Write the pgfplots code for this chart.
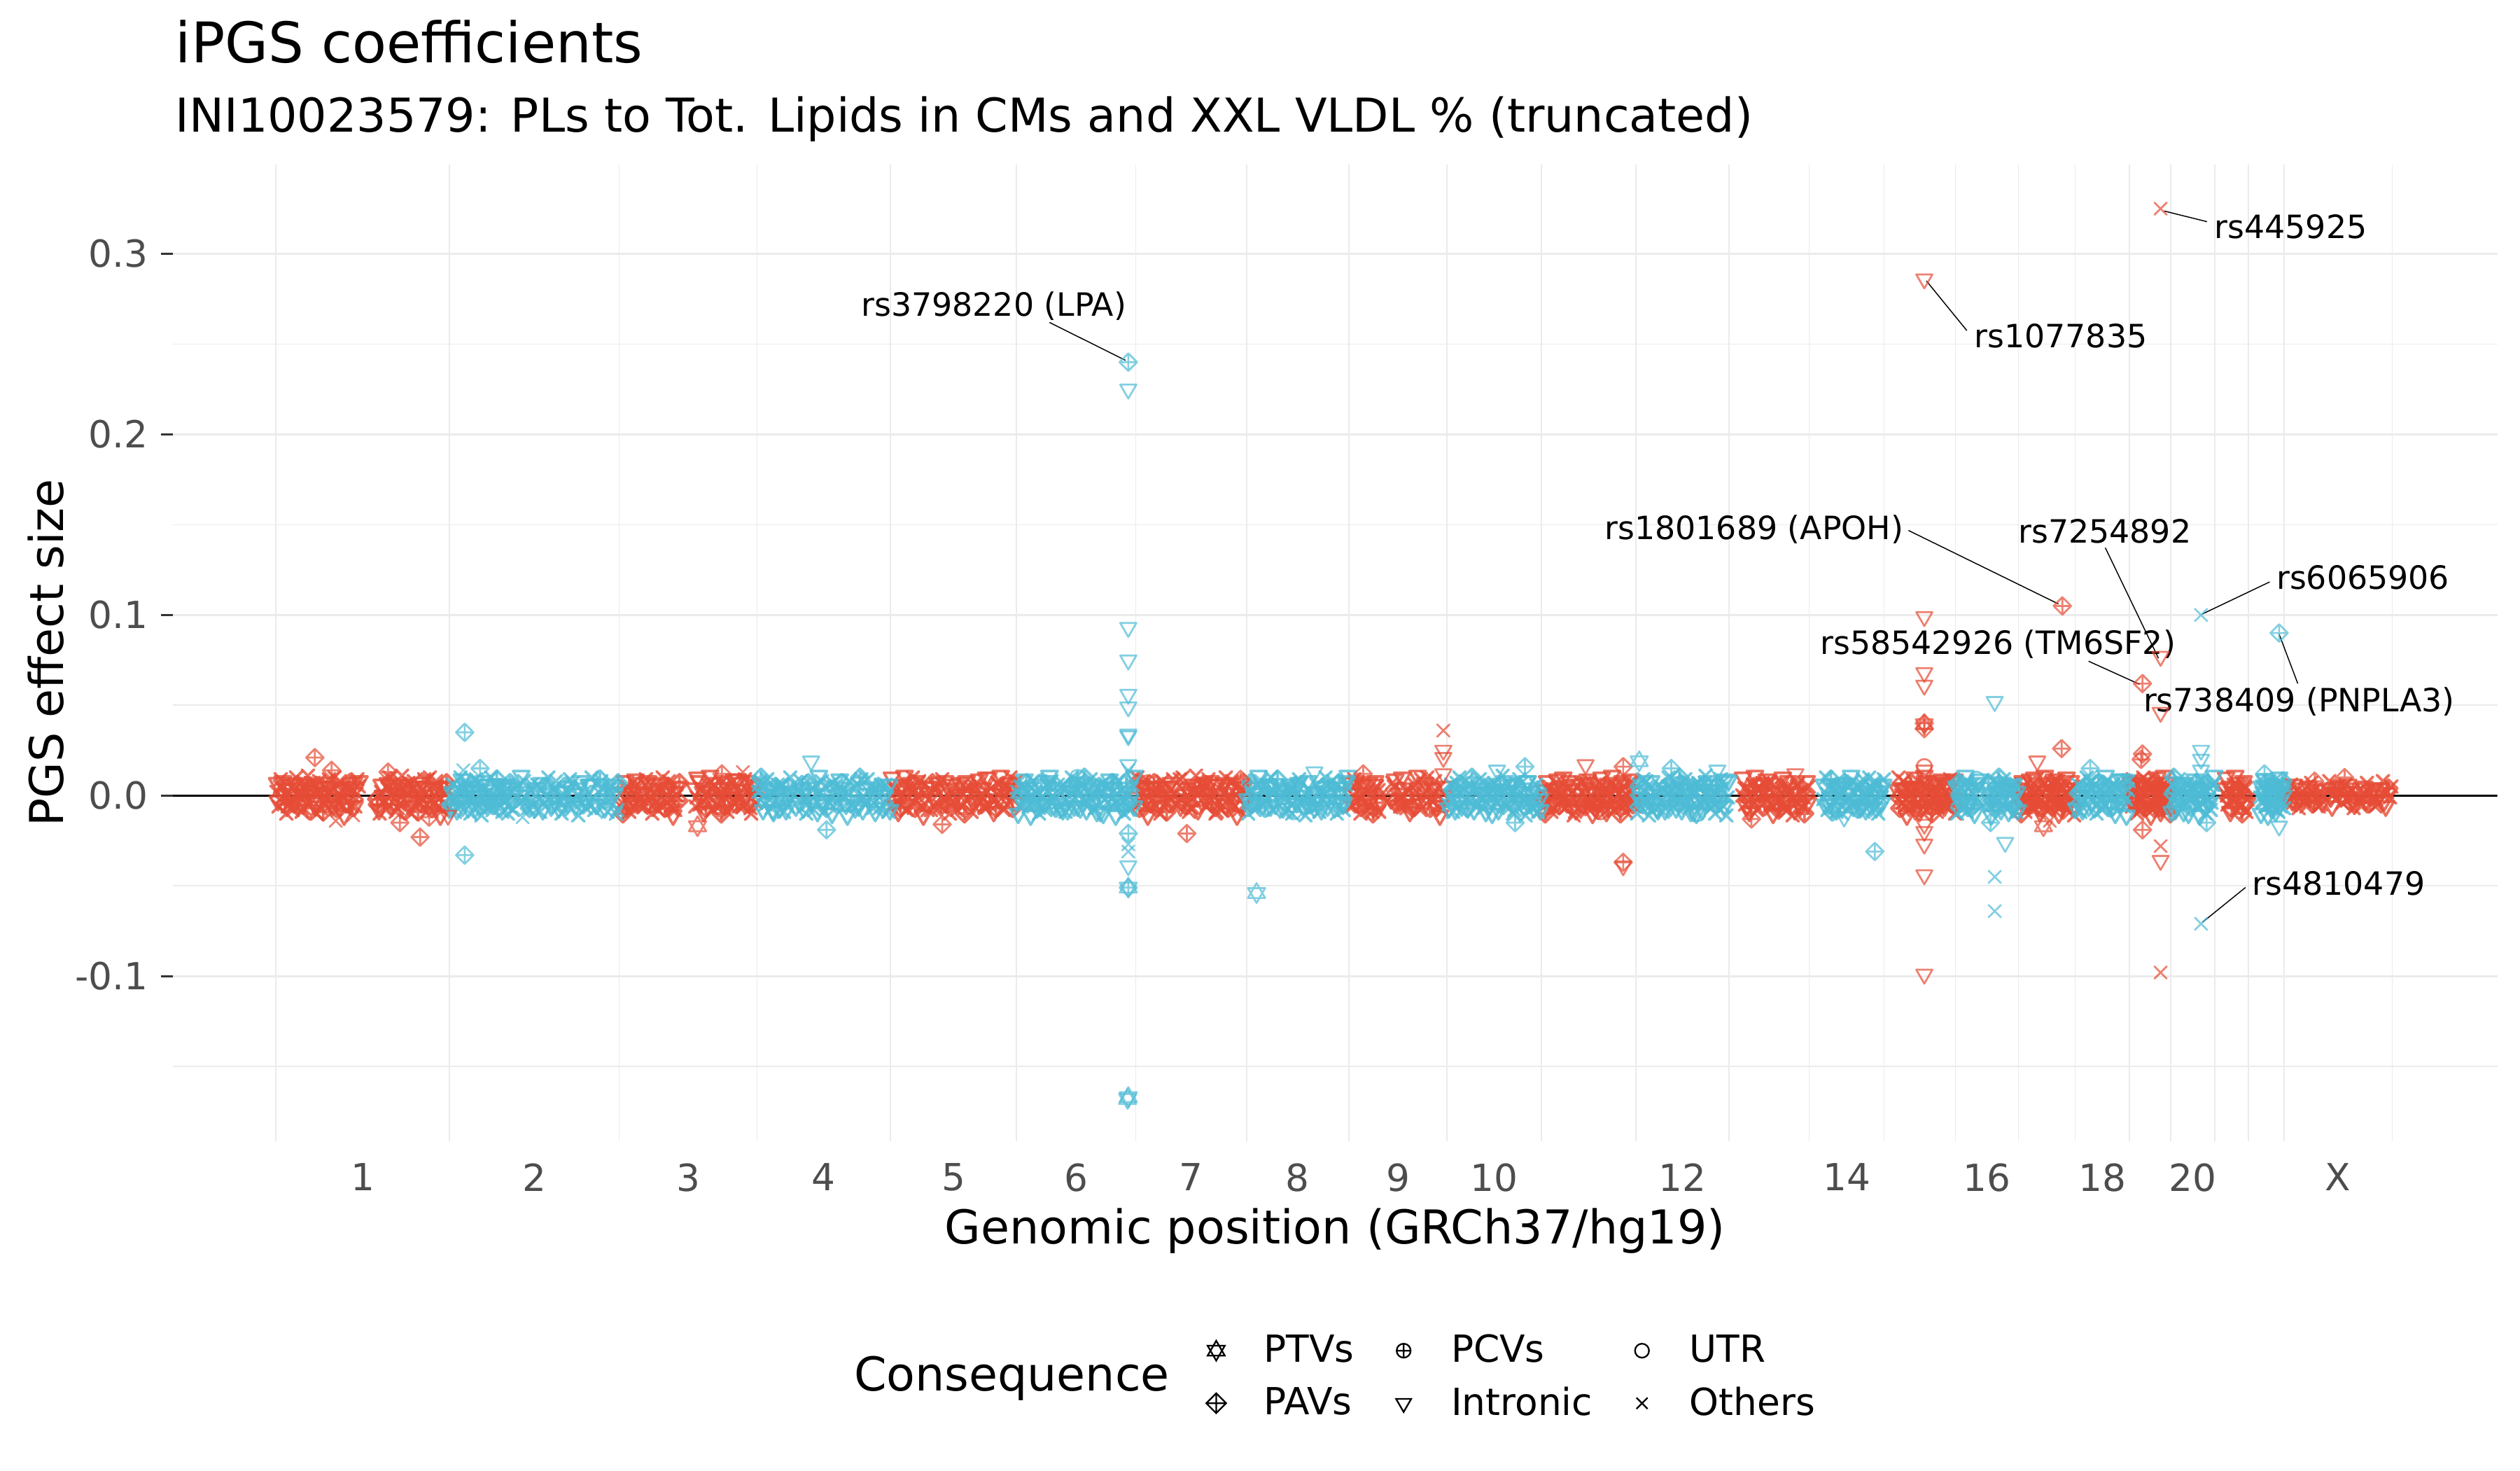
\documentclass[border=0pt]{standalone}
\usepackage{fontspec}
\setmainfont{DejaVu Sans}
\usepackage{pgfplots}
\pgfplotsset{compat=1.18}
\usepackage{pgfplotstable}
\definecolor{nred}{HTML}{E64B35}
\definecolor{nblue}{HTML}{4DBBD5}
\definecolor{gridc}{HTML}{EBEBEB}
\definecolor{tickc}{HTML}{4D4D4D}
\definecolor{tickm}{HTML}{333333}

\pgfdeclareplotmark{xx}{%
  \pgfpathmoveto{\pgfqpoint{-\pgfplotmarksize}{-\pgfplotmarksize}}%
  \pgfpathlineto{\pgfqpoint{\pgfplotmarksize}{\pgfplotmarksize}}%
  \pgfpathmoveto{\pgfqpoint{-\pgfplotmarksize}{\pgfplotmarksize}}%
  \pgfpathlineto{\pgfqpoint{\pgfplotmarksize}{-\pgfplotmarksize}}%
  \pgfusepathqstroke}
\pgfdeclareplotmark{tdown}{%
  \pgfpathmoveto{\pgfqpointpolar{-90}{\pgfplotmarksize}}%
  \pgfpathlineto{\pgfqpointpolar{30}{\pgfplotmarksize}}%
  \pgfpathlineto{\pgfqpointpolar{150}{\pgfplotmarksize}}%
  \pgfpathclose\pgfusepathqstroke}
\pgfdeclareplotmark{dplus}{%
  \pgfpathmoveto{\pgfqpoint{0pt}{\pgfplotmarksize}}%
  \pgfpathlineto{\pgfqpoint{\pgfplotmarksize}{0pt}}%
  \pgfpathlineto{\pgfqpoint{0pt}{-\pgfplotmarksize}}%
  \pgfpathlineto{\pgfqpoint{-\pgfplotmarksize}{0pt}}%
  \pgfpathclose
  \pgfpathmoveto{\pgfqpoint{0pt}{\pgfplotmarksize}}%
  \pgfpathlineto{\pgfqpoint{0pt}{-\pgfplotmarksize}}%
  \pgfpathmoveto{\pgfqpoint{-\pgfplotmarksize}{0pt}}%
  \pgfpathlineto{\pgfqpoint{\pgfplotmarksize}{0pt}}%
  \pgfusepathqstroke}
\pgfdeclareplotmark{hexa}{%
  \pgfpathmoveto{\pgfqpointpolar{90}{\pgfplotmarksize}}%
  \pgfpathlineto{\pgfqpointpolar{210}{\pgfplotmarksize}}%
  \pgfpathlineto{\pgfqpointpolar{330}{\pgfplotmarksize}}%
  \pgfpathclose
  \pgfpathmoveto{\pgfqpointpolar{270}{\pgfplotmarksize}}%
  \pgfpathlineto{\pgfqpointpolar{30}{\pgfplotmarksize}}%
  \pgfpathlineto{\pgfqpointpolar{150}{\pgfplotmarksize}}%
  \pgfpathclose
  \pgfusepathqstroke}
\pgfdeclareplotmark{cplus}{%
  \pgfpathcircle{\pgfpointorigin}{\pgfplotmarksize}%
  \pgfpathmoveto{\pgfqpoint{0pt}{\pgfplotmarksize}}%
  \pgfpathlineto{\pgfqpoint{0pt}{-\pgfplotmarksize}}%
  \pgfpathmoveto{\pgfqpoint{-\pgfplotmarksize}{0pt}}%
  \pgfpathlineto{\pgfqpoint{\pgfplotmarksize}{0pt}}%
  \pgfusepathqstroke}
\pgfdeclareplotmark{circ}{%
  \pgfpathcircle{\pgfpointorigin}{\pgfplotmarksize}\pgfusepathqstroke}

\tikzset{
  mk/.style={draw opacity=0.7, line width=0.65pt, line join=round, line cap=round},
  mkband/.style={draw opacity=0.8, line width=0.9pt, line join=round, line cap=round}}
\pgfplotsset{
  pts/.style n args={2}{forget plot, only marks, scatter, point meta=explicit symbolic,
    scatter/classes={
      x={mark=xx,mark size=2.1pt,draw=#1,#2},
      t={mark=tdown,mark size=3.2pt,draw=#1,#2},
      d={mark=dplus,mark size=3pt,draw=#1,#2},
      p={mark=hexa,mark size=3.4pt,draw=#1,#2},
      c={mark=cplus,mark size=2.6pt,draw=#1,#2},
      o={mark=circ,mark size=2.6pt,draw=#1,#2}}},
}

% x: cumulative genomic position (Mb), y: PGS effect size x 1000, c: consequence class
\pgfplotstableread[row sep=\\]{
x y c\\
1 2 x\\ 3 -3 t\\ 6 5 x\\ 9 -1 x\\ 12 0 d\\ 14 4 t\\ 17 -6 x\\ 20 1 t\\ 23 -2 x\\ 26 3 x\\
28 -4 t\\ 31 6 d\\ 34 -1 x\\ 36 2 x\\ 39 -5 t\\ 42 0 x\\ 45 3 d\\ 47 -2 t\\ 50 7 x\\ 53 -3 t\\
56 1 x\\ 58 -4 t\\ 61 2 x\\ 64 -7 x\\ 67 4 d\\ 69 0 t\\ 72 -1 x\\ 75 5 t\\ 78 -3 x\\ 80 2 x\\
83 -2 t\\ 86 1 d\\ 89 6 x\\ 91 -5 x\\ 94 3 t\\ 97 -1 x\\ 100 0 d\\ 102 -4 t\\ 105 4 x\\ 108 -2 t\\
111 3 x\\ 113 -6 t\\ 116 1 x\\ 119 5 x\\ 145 -2 d\\ 148 -8 t\\ 151 2 x\\ 154 0 t\\ 157 -3 x\\ 160 4 x\\
162 -1 t\\ 165 8 d\\ 168 -4 x\\ 171 2 x\\ 174 1 t\\ 177 -5 x\\ 180 3 d\\ 183 -2 t\\ 186 6 x\\ 189 -1 t\\
191 0 x\\ 194 -3 t\\ 197 4 x\\ 200 -6 x\\ 203 2 d\\ 206 5 t\\ 209 -1 x\\ 212 -4 t\\ 215 1 x\\ 218 9 x\\
220 -2 t\\ 223 3 d\\ 226 -5 x\\ 229 0 x\\ 232 2 t\\ 235 -7 x\\ 238 4 d\\ 241 -1 t\\ 244 1 x\\ 247 -3 t\\
494 1 x\\ 497 -4 x\\ 500 2 t\\ 503 -7 d\\ 506 4 x\\ 509 0 x\\ 512 -1 t\\ 515 5 x\\ 518 -3 d\\ 521 2 t\\
524 -2 x\\ 527 1 t\\ 530 6 x\\ 533 -5 t\\ 536 3 x\\ 539 -1 x\\ 542 0 d\\ 545 -4 t\\ 548 4 x\\ 551 -2 t\\
554 3 x\\ 557 -6 x\\ 560 1 t\\ 563 5 d\\ 566 -2 x\\ 569 -8 x\\ 572 2 t\\ 575 0 x\\ 578 -3 d\\ 601 4 t\\
604 -1 x\\ 607 8 t\\ 610 -4 x\\ 613 2 t\\ 616 1 x\\ 619 -5 x\\ 622 3 d\\ 626 -2 t\\ 629 6 x\\ 632 -1 t\\
635 0 x\\ 638 -3 x\\ 641 4 t\\ 644 -6 d\\ 647 2 x\\ 650 5 x\\ 653 -1 t\\ 657 -4 x\\ 660 1 d\\ 663 9 t\\
666 -2 x\\ 669 3 t\\ 672 -5 x\\ 675 0 t\\ 678 2 x\\ 681 -7 x\\ 684 4 d\\ 688 -1 t\\
883 -6 x\\ 886 4 x\\ 889 -3 d\\ 892 0 t\\ 895 -1 x\\ 898 6 t\\ 901 -2 x\\ 904 3 x\\ 907 -5 t\\ 910 1 d\\
913 2 x\\ 916 -4 x\\ 919 8 t\\ 922 -1 x\\ 925 4 d\\ 928 -3 t\\ 933 0 x\\ 937 2 t\\ 940 -8 x\\ 944 -2 t\\
947 5 x\\ 951 1 x\\ 954 -6 d\\ 958 3 t\\ 961 -2 x\\ 965 4 t\\ 968 -4 x\\ 972 0 x\\ 975 -1 t\\ 979 3 d\\
982 -5 x\\ 986 6 x\\ 989 1 t\\ 993 -2 x\\ 996 2 d\\ 1000 -3 t\\ 1003 5 x\\ 1007 -1 t\\ 1010 0 x\\ 1014 4 t\\
1017 -7 x\\ 1021 2 x\\ 1024 -4 d\\ 1028 1 t\\ 1031 -3 x\\ 1035 7 x\\ 1038 -2 t\\ 1042 3 d\\ 1045 0 x\\ 1049 -5 x\\
1052 2 t\\ 1056 -1 x\\ 1059 6 d\\ 1062 -4 t\\
1235 -1 t\\ 1238 8 d\\ 1241 -4 x\\ 1244 2 x\\ 1247 1 t\\ 1250 -5 x\\ 1253 3 d\\ 1256 -2 t\\ 1259 6 x\\ 1262 -1 t\\
1265 0 x\\ 1268 -3 t\\ 1271 4 x\\ 1274 -6 x\\ 1277 2 d\\ 1280 5 t\\ 1283 -1 x\\ 1286 -4 t\\ 1289 1 x\\ 1297 9 x\\
1300 -2 t\\ 1303 3 d\\ 1306 -5 x\\ 1309 0 x\\ 1312 2 t\\ 1316 -7 x\\ 1319 4 d\\ 1322 -1 t\\ 1325 1 x\\ 1328 -3 t\\
1331 5 x\\ 1334 -2 t\\ 1337 0 x\\ 1340 3 x\\ 1343 -4 d\\ 1347 6 t\\ 1350 -9 x\\ 1353 1 t\\ 1356 -1 x\\ 1359 2 x\\
1362 -5 t\\ 1365 4 d\\ 1368 -2 x\\ 1371 7 x\\ 1374 -3 t\\ 1378 0 x\\ 1381 1 d\\ 1384 -6 t\\ 1387 3 x\\ 1390 -1 t\\
1540 -6 x\\ 1543 1 t\\ 1546 0 x\\ 1549 -3 t\\ 1552 7 x\\ 1555 -2 x\\ 1558 4 d\\ 1561 -5 t\\ 1564 2 x\\ 1567 -1 t\\
1570 1 x\\ 1573 -9 x\\ 1576 6 t\\ 1579 -4 d\\ 1582 3 x\\ 1585 0 x\\ 1600 -2 t\\ 1604 5 x\\ 1607 -3 d\\ 1611 1 t\\
1614 -1 x\\ 1618 4 t\\ 1622 -7 x\\ 1625 2 x\\ 1629 0 d\\ 1632 -5 t\\ 1636 3 x\\ 1640 -2 t\\ 1643 9 x\\ 1647 1 x\\
1650 -4 t\\ 1654 -1 d\\ 1658 5 x\\ 1661 2 x\\ 1665 -6 t\\ 1668 4 x\\ 1672 -3 d\\ 1676 0 t\\
1817 -2 d\\ 1820 3 t\\ 1823 -5 x\\ 1826 0 t\\ 1829 2 x\\ 1832 -7 x\\ 1835 4 t\\ 1838 -1 d\\ 1841 1 x\\ 1843 -3 x\\
1846 5 t\\ 1849 -2 x\\ 1852 0 d\\ 1855 3 t\\ 1858 -4 x\\ 1861 6 t\\ 1864 -9 x\\ 1866 1 t\\ 1871 -1 x\\ 1873 2 x\\
1876 -5 d\\ 1878 4 t\\ 1881 -2 x\\ 1883 7 t\\ 1886 -3 x\\ 1888 0 x\\ 1891 1 t\\ 1893 -6 d\\ 1896 3 x\\ 1898 -1 x\\
1901 2 t\\ 1903 -3 x\\ 1906 5 d\\ 1908 -1 t\\ 1911 0 x\\ 1913 4 t\\ 1916 -6 x\\ 1918 1 t\\ 1921 -2 x\\ 1923 3 x\\
1926 -4 d\\ 1928 6 t\\ 1931 -1 x\\ 1933 2 t\\ 1936 -5 x\\ 1938 0 x\\ 1941 3 t\\ 1943 -2 d\\ 1946 7 x\\ 1948 -3 x\\
2104 0 x\\ 2107 4 x\\ 2110 -6 t\\ 2113 1 x\\ 2115 -2 d\\ 2118 3 t\\ 2121 -4 x\\ 2124 6 t\\ 2127 -1 x\\ 2130 2 t\\
2132 -5 x\\ 2135 0 x\\ 2138 3 d\\ 2141 -2 t\\ 2144 7 x\\ 2147 -3 t\\ 2149 1 x\\ 2152 -4 x\\ 2155 2 t\\ 2158 -7 d\\
2161 4 x\\ 2164 0 x\\ 2166 -1 t\\ 2169 5 x\\ 2172 -3 d\\ 2175 2 t\\ 2178 -2 x\\ 2181 1 t\\ 2183 6 x\\ 2186 -5 t\\
2189 3 x\\ 2192 -1 x\\ 2195 0 d\\ 2198 -4 t\\
2327 3 t\\ 2329 -1 d\\ 2332 0 x\\ 2334 -4 x\\ 2336 4 t\\ 2339 -2 x\\ 2341 3 d\\ 2343 -6 t\\ 2345 1 x\\ 2348 5 t\\
2350 -2 x\\ 2352 -8 t\\ 2355 2 x\\ 2357 0 x\\ 2359 -3 d\\ 2362 4 t\\ 2364 -1 x\\ 2366 8 t\\ 2368 -4 x\\ 2371 2 x\\
2373 1 t\\ 2375 -5 d\\ 2378 3 x\\ 2380 -2 x\\ 2382 6 t\\ 2385 -1 x\\ 2387 0 d\\ 2389 -3 t\\ 2391 4 x\\ 2394 -6 t\\
2396 2 x\\ 2398 5 t\\ 2401 -1 x\\ 2403 -4 x\\ 2405 1 d\\ 2408 9 t\\
2501 -1 x\\ 2503 4 t\\ 2505 -2 x\\ 2507 7 t\\ 2509 -4 x\\ 2512 0 x\\ 2514 1 d\\ 2516 -5 t\\ 2518 3 x\\ 2520 -2 t\\
2522 2 x\\ 2526 -1 x\\ 2528 -6 t\\ 2530 5 d\\ 2533 -3 x\\ 2535 1 x\\ 2537 0 t\\ 2539 4 x\\ 2541 -4 d\\ 2543 2 t\\
2546 -3 x\\ 2548 6 t\\ 2550 -1 x\\ 2552 -5 t\\ 2554 2 x\\ 2557 8 x\\ 2559 -2 d\\ 2561 0 t\\ 2563 3 x\\ 2565 -4 t\\
2568 1 x\\ 2570 -8 x\\ 2572 4 t\\ 2574 -2 d\\ 2576 -1 x\\ 2579 5 x\\
2660 -2 x\\ 2662 3 t\\ 2664 -5 x\\ 2665 1 x\\ 2667 0 t\\ 2669 -4 d\\ 2671 6 x\\ 2673 -1 x\\ 2674 2 t\\ 2676 -3 x\\
2678 4 d\\ 2680 -6 t\\ 2682 1 x\\ 2684 -2 t\\ 2688 5 x\\ 2690 0 t\\ 2691 -3 x\\ 2693 2 x\\ 2695 -7 d\\ 2696 3 t\\
2698 -1 x\\ 2700 4 t\\ 2701 -2 x\\ 2703 7 x\\ 2705 -4 t\\ 2706 0 d\\ 2708 1 x\\ 2710 -5 x\\ 2711 3 t\\ 2713 -2 x\\
2715 2 d\\ 2717 -1 t\\
2797 4 t\\ 2799 0 x\\ 2801 -1 d\\ 2803 5 t\\ 2805 -3 x\\ 2808 2 t\\ 2810 -2 x\\ 2812 1 t\\ 2814 6 x\\ 2816 -5 x\\
2818 3 d\\ 2820 -1 t\\ 2822 0 x\\ 2824 -4 t\\ 2826 4 x\\ 2829 -2 x\\
2882 0 d\\ 2886 -2 t\\ 2889 2 x\\ 2893 -3 t\\ 2896 1 x\\ 2900 3 x\\ 2904 -1 t\\ 2907 -2 d\\ 2911 1 x\\ 2914 5 x\\
2918 -1 t\\ 2922 2 x\\ 2925 -3 d\\ 2929 0 t\\ 2932 1 x\\ 2936 -4 t\\ 2944 2 x\\ 2948 -1 t\\ 2952 1 x\\ 2955 -2 x\\
2959 3 d\\ 2963 -1 t\\ 2967 0 x\\ 2971 2 t\\ 2975 -2 x\\ 2979 3 x\\ 2982 -5 t\\ 2986 1 d\\ 2990 -1 x\\ 2994 1 x\\
2998 -3 t\\ 3002 2 x\\ 3006 -1 d\\ 3010 4 t\\ 3013 -2 x\\ 3017 0 t\\ 3021 1 x\\ 3025 -3 t\\ 3029 2 x\\ 3033 -1 x\\
2 7 t\\ 4 -6 x\\ 7 9 x\\ 10 8 t\\ 13 -5 d\\ 15 -10 x\\ 18 6 t\\ 21 -4 x\\ 24 -8 x\\ 27 7 t\\
29 10 x\\ 32 -5 d\\ 35 4 t\\ 37 -9 x\\ 40 -7 x\\ 43 6 t\\ 46 11 x\\ 48 -8 t\\ 51 5 d\\ 54 7 x\\
57 -6 t\\ 59 -10 x\\ 62 8 x\\ 65 5 t\\ 68 -9 d\\ 70 -4 x\\ 73 7 t\\ 76 9 x\\ 79 -5 x\\ 81 -6 t\\
84 10 x\\ 87 -7 d\\ 90 4 t\\ 92 8 x\\ 95 -6 x\\ 98 -11 t\\ 101 -8 x\\ 103 5 t\\ 106 7 d\\ 109 -6 x\\
112 7 t\\ 114 -6 x\\ 117 9 x\\ 120 8 t\\ 146 -5 d\\ 149 -10 x\\ 152 6 t\\ 155 -4 x\\ 158 -8 x\\ 161 7 t\\
163 10 x\\ 166 -5 d\\ 169 4 t\\ 172 -9 x\\ 175 -7 x\\ 178 6 t\\ 181 11 x\\ 184 -8 t\\ 187 5 d\\ 190 7 x\\
192 -6 t\\ 195 -10 x\\ 198 8 x\\ 201 5 t\\ 204 -9 d\\ 207 -4 x\\ 210 7 t\\ 213 9 x\\ 216 -5 x\\ 219 -6 t\\
221 10 x\\ 224 -7 d\\ 227 4 t\\ 230 8 x\\ 233 -6 x\\ 236 -11 t\\ 239 -8 x\\ 242 5 t\\ 245 7 d\\ 248 -6 x\\
495 -6 x\\ 498 -10 d\\ 501 8 t\\ 504 5 x\\ 507 -9 x\\ 510 -4 t\\ 513 7 x\\ 516 9 t\\ 519 -5 d\\ 522 -6 x\\
525 7 t\\ 528 -6 x\\ 531 9 x\\ 534 8 t\\ 537 -5 d\\ 540 -10 x\\ 543 6 t\\ 546 -4 x\\ 549 -8 x\\ 552 7 t\\
555 10 x\\ 558 -7 d\\ 561 4 t\\ 564 8 x\\ 567 -6 x\\ 570 -11 t\\ 573 -8 x\\ 576 5 t\\ 579 7 d\\ 602 -6 x\\
605 10 t\\ 608 -5 x\\ 611 4 x\\ 614 -9 t\\ 617 -7 d\\ 620 6 x\\ 623 11 t\\ 627 -8 x\\ 630 5 x\\ 633 7 t\\
636 -6 x\\ 639 -10 d\\ 642 8 t\\ 645 5 x\\ 648 -9 x\\ 651 -4 t\\ 654 7 x\\ 658 9 t\\ 661 -5 d\\ 664 -6 x\\
667 7 t\\ 670 -6 x\\ 673 9 x\\ 676 8 t\\ 679 -5 d\\ 682 -10 x\\ 685 6 t\\ 689 -4 x\\
884 10 t\\ 887 -5 x\\ 890 4 x\\ 893 -9 t\\ 896 -7 d\\ 899 6 x\\ 902 11 t\\ 905 -8 x\\ 908 5 x\\ 911 7 t\\
914 10 x\\ 917 -7 d\\ 920 4 t\\ 923 8 x\\ 926 -6 x\\ 929 -11 t\\ 935 -8 x\\ 939 5 t\\ 942 7 d\\ 946 -6 x\\
949 7 t\\ 953 -6 x\\ 956 9 x\\ 960 8 t\\ 963 -5 d\\ 967 -10 x\\ 970 6 t\\ 974 -4 x\\ 977 -8 x\\ 981 7 t\\
984 -6 x\\ 988 -10 d\\ 991 8 t\\ 995 5 x\\ 998 -9 x\\ 1002 -4 t\\ 1005 7 x\\ 1009 9 t\\ 1012 -5 d\\ 1016 -6 x\\
1019 10 t\\ 1023 -5 x\\ 1026 4 x\\ 1030 -9 t\\ 1033 -7 d\\ 1037 6 x\\ 1040 11 t\\ 1044 -8 x\\ 1047 5 x\\ 1051 7 t\\
1054 10 x\\ 1057 -7 d\\ 1060 4 t\\ 1062 8 x\\
1236 10 x\\ 1239 -7 d\\ 1242 4 t\\ 1245 8 x\\ 1248 -6 x\\ 1251 -11 t\\ 1254 -8 x\\ 1257 5 t\\ 1260 7 d\\ 1263 -6 x\\
1266 -6 t\\ 1269 -10 x\\ 1272 8 x\\ 1275 5 t\\ 1278 -9 d\\ 1281 -4 x\\ 1284 7 t\\ 1287 9 x\\ 1291 -5 x\\ 1298 -6 t\\
1301 10 x\\ 1304 -5 d\\ 1307 4 t\\ 1310 -9 x\\ 1313 -7 x\\ 1317 6 t\\ 1320 11 x\\ 1323 -8 t\\ 1326 5 d\\ 1329 7 x\\
1332 7 t\\ 1335 -6 x\\ 1338 9 x\\ 1341 8 t\\ 1344 -5 d\\ 1348 -10 x\\ 1351 6 t\\ 1354 -4 x\\ 1357 -8 x\\ 1360 7 t\\
1363 10 x\\ 1366 -7 d\\ 1369 4 t\\ 1372 8 x\\ 1375 -6 x\\ 1379 -11 t\\ 1382 -8 x\\ 1385 5 t\\ 1388 7 d\\ 1391 -6 x\\
1541 7 t\\ 1544 -6 x\\ 1547 9 x\\ 1550 8 t\\ 1553 -5 d\\ 1556 -10 x\\ 1559 6 t\\ 1562 -4 x\\ 1565 -8 x\\ 1568 7 t\\
1571 -6 x\\ 1574 -10 d\\ 1577 8 t\\ 1580 5 x\\ 1583 -9 x\\ 1586 -4 t\\ 1602 7 x\\ 1606 9 t\\ 1609 -5 d\\ 1613 -6 x\\
1616 10 t\\ 1620 -5 x\\ 1624 4 x\\ 1627 -9 t\\ 1631 -7 d\\ 1634 6 x\\ 1638 11 t\\ 1642 -8 x\\ 1645 5 x\\ 1649 7 t\\
1652 10 x\\ 1656 -7 d\\ 1660 4 t\\ 1663 8 x\\ 1667 -6 x\\ 1670 -11 t\\ 1674 -8 x\\ 1678 5 t\\
1818 -6 x\\ 1821 -10 d\\ 1824 8 t\\ 1827 5 x\\ 1830 -9 x\\ 1833 -4 t\\ 1836 7 x\\ 1839 9 t\\ 1842 -5 d\\ 1844 -6 x\\
1847 10 t\\ 1850 -7 x\\ 1853 4 x\\ 1856 8 t\\ 1859 -6 d\\ 1862 -11 x\\ 1865 -8 t\\ 1868 5 x\\ 1872 7 x\\ 1874 -6 t\\
1877 7 x\\ 1879 -6 d\\ 1882 9 t\\ 1884 8 x\\ 1887 -5 x\\ 1889 -10 t\\ 1892 6 x\\ 1894 -4 t\\ 1897 -8 d\\ 1899 7 x\\
1902 10 t\\ 1904 -5 x\\ 1907 4 x\\ 1909 -9 t\\ 1912 -7 d\\ 1914 6 x\\ 1917 11 t\\ 1919 -8 x\\ 1922 5 x\\ 1924 7 t\\
1927 -6 x\\ 1929 -10 d\\ 1932 8 t\\ 1934 5 x\\ 1937 -9 x\\ 1939 -4 t\\ 1942 7 x\\ 1944 9 t\\ 1947 -5 d\\ 1949 -6 x\\
2105 10 t\\ 2108 -5 x\\ 2111 4 x\\ 2114 -9 t\\ 2116 -7 d\\ 2119 6 x\\ 2122 11 t\\ 2125 -8 x\\ 2128 5 x\\ 2131 7 t\\
2133 7 x\\ 2136 -6 d\\ 2139 9 t\\ 2142 8 x\\ 2145 -5 x\\ 2148 -10 t\\ 2150 6 x\\ 2153 -4 t\\ 2156 -8 d\\ 2159 7 x\\
2162 10 t\\ 2165 -7 x\\ 2167 4 x\\ 2170 8 t\\ 2173 -6 d\\ 2176 -11 x\\ 2179 -8 t\\ 2182 5 x\\ 2184 7 x\\ 2187 -6 t\\
2190 -6 x\\ 2193 -10 d\\ 2196 8 t\\ 2199 5 x\\
2328 10 x\\ 2330 -7 d\\ 2333 4 t\\ 2335 8 x\\ 2337 -6 x\\ 2340 -11 t\\ 2342 -8 x\\ 2344 5 t\\ 2346 7 d\\ 2349 -6 x\\
2351 10 t\\ 2353 -5 x\\ 2356 4 x\\ 2358 -9 t\\ 2360 -7 d\\ 2363 6 x\\ 2365 11 t\\ 2367 -8 x\\ 2369 5 x\\ 2372 7 t\\
2374 -6 x\\ 2376 -10 d\\ 2379 8 t\\ 2381 5 x\\ 2383 -9 x\\ 2386 -4 t\\ 2388 7 x\\ 2390 9 t\\ 2392 -5 d\\ 2395 -6 x\\
2397 7 t\\ 2399 -6 x\\ 2402 9 x\\ 2404 8 t\\ 2406 -5 d\\ 2409 -10 x\\
2502 -6 x\\ 2504 -10 d\\ 2506 8 t\\ 2508 5 x\\ 2510 -9 x\\ 2513 -4 t\\ 2515 7 x\\ 2517 9 t\\ 2519 -5 d\\ 2521 -6 x\\
2523 10 t\\ 2527 -5 x\\ 2529 4 x\\ 2531 -9 t\\ 2534 -7 d\\ 2536 6 x\\ 2538 11 t\\ 2540 -8 x\\ 2542 5 x\\ 2544 7 t\\
2547 7 x\\ 2549 -6 d\\ 2551 9 t\\ 2553 8 x\\ 2555 -5 x\\ 2558 -10 t\\ 2560 6 x\\ 2562 -4 t\\ 2564 -8 d\\ 2566 7 x\\
2569 10 t\\ 2571 -7 x\\ 2573 4 x\\ 2575 8 t\\ 2577 -6 d\\ 2580 -11 x\\
2661 7 t\\ 2663 -6 x\\ 2664 9 x\\ 2666 8 t\\ 2668 -5 d\\ 2670 -10 x\\ 2672 6 t\\ 2673 -4 x\\ 2675 -8 x\\ 2677 7 t\\
2679 10 x\\ 2681 -7 d\\ 2683 4 t\\ 2685 8 x\\ 2689 -6 x\\ 2690 -11 t\\ 2692 -8 x\\ 2694 5 t\\ 2696 7 d\\ 2697 -6 x\\
2699 10 t\\ 2700 -5 x\\ 2702 4 x\\ 2704 -9 t\\ 2706 -7 d\\ 2707 6 x\\ 2709 11 t\\ 2711 -8 x\\ 2712 5 x\\ 2714 7 t\\
2716 -6 x\\ 2718 -10 d\\
2798 10 t\\ 2800 -5 x\\ 2802 4 x\\ 2804 -9 t\\ 2806 -7 d\\ 2809 6 x\\ 2811 11 t\\ 2813 -8 x\\ 2815 5 x\\ 2817 7 t\\
2819 -6 x\\ 2821 -10 d\\ 2823 8 t\\ 2825 5 x\\ 2827 -9 x\\ 2828 -4 t\\
2884 5 t\\ 2888 -4 x\\ 2891 6 x\\ 2895 6 t\\ 2898 -4 d\\ 2902 -7 x\\ 2906 4 t\\ 2909 -3 x\\ 2913 -6 x\\ 2916 5 t\\
2920 7 x\\ 2924 -4 d\\ 2927 3 t\\ 2931 -6 x\\ 2934 -5 x\\ 2938 4 t\\ 2946 8 x\\ 2950 -6 t\\ 2954 4 d\\ 2957 5 x\\
2961 5 t\\ 2965 -4 x\\ 2969 6 x\\ 2973 6 t\\ 2977 -4 d\\ 2981 -7 x\\ 2984 4 t\\ 2988 -3 x\\ 2992 -6 x\\ 2996 5 t\\
3000 7 x\\ 3004 -4 d\\ 3008 3 t\\ 3012 -6 x\\ 3015 -5 x\\ 3019 4 t\\ 3023 8 x\\ 3027 -6 t\\ 3031 4 d\\ 3035 5 x\\
}\redtab

\pgfplotstableread[row sep=\\]{
x y c\\
56 21 d\\ 80 14 d\\ 161 13 d\\ 207 -23 d\\ 86 -14 x\\ 178 -15 d\\ 247 -11 t\\ 220 -12 d\\ 111 -11 x\\
605 -17 p\\ 640 12 d\\ 670 13 x\\ 956 -16 d\\ 1023 10 t\\ 1250 7 c\\ 1307 -21 d\\ 1384 9 d\\
1675 36 x\\ 1675 25 t\\ 1675 21 t\\ 1675 12 t\\ 1560 12 d\\ 1900 -9 o\\ 1933 -37 d\\ 1933 -39 t\\ 1933 16 d\\ 1879 17 t\\
2117 -13 d\\ 2180 12 t\\
2365 286 t\\ 2365 99 t\\ 2365 68 t\\ 2365 61 t\\ 2365 40 d\\ 2365 39.5 p\\ 2365 37 d\\ 2365 16 o\\ 2365 14 t\\
2365 -16 t\\ 2365 -20 t\\ 2365 -27 t\\ 2365 -44 t\\ 2365 -99 t\\
2562 26 d\\ 2563 105 d\\ 2536 -17 p\\ 2527 19 t\\ 2545 -14 x\\ 2540 9 o\\
2704 325 x\\ 2704 77 t\\ 2678 62 d\\ 2704 46 t\\ 2678 23 d\\ 2676 20 d\\ 2678 -19 d\\ 2704 -28 x\\ 2704 -36 t\\ 2704 -98 x\\ 2690 8 c\\
2925 8 d\\ 2968 10 d\\
}\redout

\pgfplotstableread[row sep=\\]{
x y c\\
251 -5 d\\ 253 2 t\\ 256 0 x\\ 259 -3 t\\ 262 4 x\\ 264 -6 x\\ 267 9 t\\ 270 -1 d\\ 272 1 x\\ 275 -2 x\\
278 5 t\\ 281 -4 x\\ 283 2 d\\ 286 -7 t\\ 289 3 x\\ 291 0 t\\ 294 -1 x\\ 297 6 t\\ 300 -3 x\\ 302 1 x\\
305 -2 d\\ 308 3 t\\ 310 -5 x\\ 313 1 t\\ 316 0 x\\ 318 -4 x\\ 321 6 t\\ 324 -1 d\\ 327 2 x\\ 329 -3 x\\
332 4 t\\ 335 -6 x\\ 337 1 d\\ 339 -2 t\\ 346 5 x\\ 350 0 t\\ 354 -3 x\\ 358 2 t\\ 362 -7 x\\ 365 3 x\\
369 -1 d\\ 373 4 t\\ 377 -2 x\\ 381 7 t\\ 385 -4 x\\ 389 0 x\\ 393 1 t\\ 397 -5 d\\ 400 3 x\\ 404 -2 x\\
408 2 t\\ 412 -1 x\\ 416 -6 d\\ 420 5 t\\ 424 -3 x\\ 428 1 t\\ 432 0 x\\ 435 4 t\\ 439 -4 x\\ 443 2 x\\
447 -3 d\\ 451 6 t\\ 455 -1 x\\ 459 -5 t\\ 463 2 x\\ 467 8 x\\ 470 -2 t\\ 474 0 d\\ 478 3 x\\ 482 -4 x\\
486 1 t\\ 490 -8 x\\
692 2 x\\ 695 8 x\\ 698 -2 t\\ 701 0 x\\ 704 3 d\\ 707 -4 t\\ 710 1 x\\ 713 -8 t\\ 716 4 x\\ 719 -2 t\\
722 -1 x\\ 725 5 x\\ 728 -3 d\\ 731 2 t\\ 734 -6 x\\ 737 1 t\\ 744 0 x\\ 748 3 x\\ 751 -4 t\\ 755 6 d\\
759 -2 x\\ 762 -5 x\\ 766 1 t\\ 770 4 x\\ 773 -1 d\\ 777 -9 t\\ 781 2 x\\ 784 -3 t\\ 788 5 x\\ 792 0 t\\
796 -2 x\\ 799 7 x\\ 803 -4 t\\ 807 1 d\\ 810 -1 x\\ 814 3 x\\ 818 -5 t\\ 821 2 x\\ 825 0 d\\ 829 -3 t\\
832 4 x\\ 836 -6 t\\ 840 9 x\\ 844 -1 x\\ 847 1 t\\ 851 -2 d\\ 855 5 x\\ 858 -4 x\\ 862 2 t\\ 866 -7 x\\
869 3 d\\ 873 0 t\\ 877 -1 x\\ 880 6 t\\
1064 2 x\\ 1067 -1 t\\ 1070 -6 x\\ 1073 5 x\\ 1076 -3 t\\ 1079 1 d\\ 1082 0 x\\ 1085 4 x\\ 1088 -4 t\\ 1091 2 x\\
1094 -3 d\\ 1097 6 t\\ 1100 -1 x\\ 1103 -5 t\\ 1106 2 x\\ 1109 8 t\\ 1112 -2 x\\ 1115 0 x\\ 1118 3 d\\ 1121 -4 t\\
1126 1 x\\ 1129 -8 t\\ 1132 4 x\\ 1135 -2 x\\ 1138 -1 t\\ 1141 5 d\\ 1144 -3 x\\ 1147 2 x\\ 1150 -6 t\\ 1153 1 x\\
1156 0 d\\ 1159 3 t\\ 1162 -4 x\\ 1165 6 t\\ 1168 -2 x\\ 1171 -5 t\\ 1174 1 x\\ 1177 4 x\\ 1180 -1 d\\ 1183 -9 t\\
1186 2 x\\ 1189 -3 t\\ 1192 5 x\\ 1195 0 x\\ 1198 -2 t\\ 1201 7 d\\ 1204 -4 x\\ 1207 1 x\\ 1210 -1 t\\ 1213 3 x\\
1216 -5 d\\ 1219 2 t\\ 1222 0 x\\ 1225 -3 t\\ 1228 4 x\\ 1231 -6 t\\
1394 -2 t\\ 1397 3 x\\ 1400 -5 d\\ 1403 1 t\\ 1406 0 x\\ 1409 -4 t\\ 1412 6 x\\ 1415 -1 t\\ 1418 2 x\\ 1421 -3 x\\
1424 4 d\\ 1427 -6 t\\ 1430 1 x\\ 1433 -2 t\\ 1436 5 x\\ 1441 0 x\\ 1444 -3 t\\ 1447 2 d\\ 1451 -7 x\\ 1454 3 x\\
1457 -1 t\\ 1460 4 x\\ 1463 -2 d\\ 1467 7 t\\ 1470 -4 x\\ 1473 0 t\\ 1476 1 x\\ 1479 -5 t\\ 1483 3 x\\ 1486 -2 x\\
1489 2 t\\ 1492 -1 d\\ 1495 -6 x\\ 1499 5 t\\ 1502 -3 x\\ 1505 1 x\\ 1508 0 t\\ 1511 4 d\\ 1515 -4 x\\ 1518 2 x\\
1521 -3 t\\ 1524 6 x\\ 1527 -1 d\\ 1531 -5 t\\ 1534 2 x\\ 1537 8 t\\
1682 -5 x\\ 1685 0 x\\ 1688 3 d\\ 1691 -2 t\\ 1694 7 x\\ 1697 -3 t\\ 1700 1 x\\ 1703 -4 x\\ 1706 2 t\\ 1709 -7 d\\
1712 4 x\\ 1715 0 x\\ 1718 -1 t\\ 1723 5 x\\ 1726 -3 d\\ 1729 2 t\\ 1732 -2 x\\ 1735 1 t\\ 1738 6 x\\ 1741 -5 t\\
1744 3 x\\ 1747 -1 x\\ 1750 0 d\\ 1753 -4 t\\ 1756 4 x\\ 1759 -2 t\\ 1762 3 x\\ 1765 -6 x\\ 1768 1 t\\ 1771 5 d\\
1774 -2 x\\ 1777 -8 x\\ 1780 2 t\\ 1783 0 x\\ 1786 -3 d\\ 1789 4 t\\ 1792 -1 x\\ 1795 8 t\\ 1798 -4 x\\ 1801 2 t\\
1804 1 x\\ 1807 -5 x\\ 1810 3 d\\ 1813 -2 t\\
1952 -3 x\\ 1955 6 x\\ 1958 -1 t\\ 1961 -5 d\\ 1963 2 x\\ 1966 8 x\\ 1969 -2 t\\ 1972 0 x\\ 1975 3 d\\ 1977 -4 t\\
1980 1 x\\ 1983 -8 t\\ 1989 4 x\\ 1992 -2 t\\ 1994 -1 x\\ 1997 5 x\\ 2000 -3 d\\ 2002 2 t\\ 2005 -6 x\\ 2008 1 t\\
2010 0 x\\ 2013 3 x\\ 2016 -4 t\\ 2018 6 d\\ 2021 -2 x\\ 2024 -5 x\\ 2026 1 t\\ 2029 4 x\\ 2032 -1 d\\ 2034 -9 t\\
2037 2 x\\ 2040 -3 t\\ 2042 5 x\\ 2045 0 t\\ 2048 -2 x\\ 2050 7 x\\ 2053 -4 d\\ 2056 1 t\\ 2058 -1 x\\ 2061 3 t\\
2064 -5 x\\ 2066 2 x\\ 2069 0 t\\ 2072 -3 d\\ 2074 4 x\\ 2077 -6 x\\ 2080 9 t\\ 2083 -1 x\\
2220 -2 x\\ 2223 -5 t\\ 2225 1 x\\ 2228 4 x\\ 2230 -1 t\\ 2233 -9 d\\ 2236 2 x\\ 2238 -3 x\\ 2241 5 t\\ 2243 0 x\\
2246 -2 d\\ 2249 7 t\\ 2251 -4 x\\ 2254 1 t\\ 2256 -1 x\\ 2259 3 t\\ 2262 -5 x\\ 2264 2 x\\ 2267 0 d\\ 2269 -3 t\\
2272 4 x\\ 2275 -6 t\\ 2277 9 x\\ 2280 -1 x\\ 2282 1 t\\ 2285 -2 d\\ 2288 5 x\\ 2290 -4 x\\ 2293 2 t\\ 2295 -7 x\\
2298 3 d\\ 2301 0 t\\ 2303 -1 x\\ 2306 6 t\\
2411 5 t\\ 2413 -2 x\\ 2416 0 d\\ 2418 3 t\\ 2421 -4 x\\ 2423 6 t\\ 2426 -9 x\\ 2428 1 t\\ 2431 -1 x\\ 2433 2 x\\
2436 -5 d\\ 2438 4 t\\ 2441 -2 x\\ 2443 7 t\\ 2456 -3 x\\ 2458 0 x\\ 2460 1 t\\ 2463 -6 d\\ 2465 3 x\\ 2467 -1 x\\
2469 2 t\\ 2471 -3 x\\ 2474 5 d\\ 2476 -1 t\\ 2478 0 x\\ 2480 4 t\\ 2482 -6 x\\ 2485 1 x\\ 2487 -2 t\\ 2489 3 x\\
2491 -4 d\\ 2493 6 t\\ 2496 -1 x\\ 2498 2 t\\
2582 -2 x\\ 2585 -8 x\\ 2588 2 d\\ 2591 0 t\\ 2594 -3 x\\ 2597 4 t\\ 2600 -1 x\\ 2603 8 x\\ 2605 -4 t\\ 2608 2 d\\
2611 1 x\\ 2614 -5 x\\ 2616 3 t\\ 2619 -2 x\\ 2622 6 d\\ 2624 -1 t\\ 2627 0 x\\ 2630 -3 t\\ 2632 4 x\\ 2635 -6 t\\
2638 2 x\\ 2640 5 x\\ 2643 -1 d\\ 2646 -4 t\\ 2649 1 x\\ 2651 9 t\\ 2654 -2 x\\ 2657 3 x\\
2720 -9 t\\ 2722 1 d\\ 2724 -1 x\\ 2727 2 x\\ 2729 -5 t\\ 2731 4 x\\ 2734 -2 d\\ 2736 7 t\\ 2738 -3 x\\ 2741 0 t\\
2743 1 x\\ 2747 -6 t\\ 2749 3 x\\ 2752 -1 x\\ 2754 2 d\\ 2756 -3 t\\ 2759 5 x\\ 2761 -1 t\\ 2763 0 x\\ 2766 4 x\\
2768 -6 t\\ 2770 1 d\\ 2773 -2 x\\ 2775 3 t\\ 2777 -4 x\\ 2780 6 x\\
2847 -1 x\\ 2849 5 t\\ 2850 -3 x\\ 2852 2 t\\ 2854 -6 x\\ 2856 1 x\\ 2857 0 d\\ 2859 3 t\\ 2861 -4 x\\ 2863 6 t\\
2864 -2 x\\ 2866 -5 x\\ 2868 1 t\\ 2870 4 d\\ 2871 -1 x\\ 2873 -9 x\\ 2875 2 t\\ 2877 -3 x\\ 2878 5 d\\ 2880 0 t\\
252 -7 t\\ 254 6 x\\ 257 -9 x\\ 260 -8 t\\ 263 5 d\\ 265 10 x\\ 268 -6 t\\ 271 4 x\\ 273 8 x\\ 276 -7 t\\
279 -10 x\\ 282 5 d\\ 284 -4 t\\ 287 9 x\\ 290 7 x\\ 292 -6 t\\ 295 -11 x\\ 298 8 t\\ 301 -5 d\\ 303 -7 x\\
306 6 t\\ 309 10 x\\ 311 -8 x\\ 314 -5 t\\ 317 9 d\\ 319 4 x\\ 322 -7 t\\ 325 -9 x\\ 328 5 x\\ 330 6 t\\
333 -10 x\\ 336 7 d\\ 338 -4 t\\ 340 -8 x\\ 348 6 x\\ 352 11 t\\ 356 8 x\\ 360 -5 t\\ 364 -7 d\\ 367 6 x\\
371 -7 t\\ 375 6 x\\ 379 -9 x\\ 383 -8 t\\ 387 5 d\\ 391 10 x\\ 395 -6 t\\ 399 4 x\\ 402 8 x\\ 406 -7 t\\
410 -10 x\\ 414 5 d\\ 418 -4 t\\ 422 9 x\\ 426 7 x\\ 430 -6 t\\ 434 -11 x\\ 437 8 t\\ 441 -5 d\\ 445 -7 x\\
449 6 t\\ 453 10 x\\ 457 -8 x\\ 461 -5 t\\ 465 9 d\\ 469 4 x\\ 472 -7 t\\ 476 -9 x\\ 480 5 x\\ 484 6 t\\
488 -10 x\\ 491 7 d\\
693 6 x\\ 696 10 d\\ 699 -8 t\\ 702 -5 x\\ 705 9 x\\ 708 4 t\\ 711 -7 x\\ 714 -9 t\\ 717 5 d\\ 720 6 x\\
723 -7 t\\ 726 6 x\\ 729 -9 x\\ 732 -8 t\\ 735 5 d\\ 738 10 x\\ 746 -6 t\\ 750 4 x\\ 753 8 x\\ 757 -7 t\\
761 -10 x\\ 764 7 d\\ 768 -4 t\\ 772 -8 x\\ 775 6 x\\ 779 11 t\\ 783 8 x\\ 786 -5 t\\ 790 -7 d\\ 794 6 x\\
798 -10 t\\ 801 5 x\\ 805 -4 x\\ 809 9 t\\ 812 7 d\\ 816 -6 x\\ 820 -11 t\\ 823 8 x\\ 827 -5 x\\ 831 -7 t\\
834 6 x\\ 838 10 d\\ 842 -8 t\\ 846 -5 x\\ 849 9 x\\ 853 4 t\\ 857 -7 x\\ 860 -9 t\\ 864 5 d\\ 868 6 x\\
871 -7 t\\ 875 6 x\\ 879 -9 x\\ 881 -8 t\\
1065 -10 t\\ 1068 5 x\\ 1071 -4 x\\ 1074 9 t\\ 1077 7 d\\ 1080 -6 x\\ 1083 -11 t\\ 1086 8 x\\ 1089 -5 x\\ 1092 -7 t\\
1095 -10 x\\ 1098 7 d\\ 1101 -4 t\\ 1104 -8 x\\ 1107 6 x\\ 1110 11 t\\ 1113 8 x\\ 1116 -5 t\\ 1119 -7 d\\ 1122 6 x\\
1127 -7 t\\ 1130 6 x\\ 1133 -9 x\\ 1136 -8 t\\ 1139 5 d\\ 1142 10 x\\ 1145 -6 t\\ 1148 4 x\\ 1151 8 x\\ 1154 -7 t\\
1157 6 x\\ 1160 10 d\\ 1163 -8 t\\ 1166 -5 x\\ 1169 9 x\\ 1172 4 t\\ 1175 -7 x\\ 1178 -9 t\\ 1181 5 d\\ 1184 6 x\\
1187 -10 t\\ 1190 5 x\\ 1193 -4 x\\ 1196 9 t\\ 1199 7 d\\ 1202 -6 x\\ 1205 -11 t\\ 1208 8 x\\ 1211 -5 x\\ 1214 -7 t\\
1217 -10 x\\ 1220 7 d\\ 1223 -4 t\\ 1226 -8 x\\ 1229 6 x\\ 1232 11 t\\
1395 -10 x\\ 1398 7 d\\ 1401 -4 t\\ 1404 -8 x\\ 1407 6 x\\ 1410 11 t\\ 1413 8 x\\ 1416 -5 t\\ 1419 -7 d\\ 1422 6 x\\
1425 6 t\\ 1428 10 x\\ 1431 -8 x\\ 1434 -5 t\\ 1437 9 d\\ 1442 4 x\\ 1445 -7 t\\ 1449 -9 x\\ 1452 5 x\\ 1455 6 t\\
1458 -10 x\\ 1461 5 d\\ 1465 -4 t\\ 1468 9 x\\ 1471 7 x\\ 1474 -6 t\\ 1477 -11 x\\ 1481 8 t\\ 1484 -5 d\\ 1487 -7 x\\
1490 -7 t\\ 1493 6 x\\ 1497 -9 x\\ 1500 -8 t\\ 1503 5 d\\ 1506 10 x\\ 1509 -6 t\\ 1513 4 x\\ 1516 8 x\\ 1519 -7 t\\
1522 -10 x\\ 1525 7 d\\ 1529 -4 t\\ 1532 -8 x\\ 1535 6 x\\ 1538 11 t\\
1683 -7 t\\ 1686 6 x\\ 1689 -9 x\\ 1692 -8 t\\ 1695 5 d\\ 1698 10 x\\ 1701 -6 t\\ 1704 4 x\\ 1707 8 x\\ 1710 -7 t\\
1713 6 x\\ 1716 10 d\\ 1719 -8 t\\ 1724 -5 x\\ 1727 9 x\\ 1730 4 t\\ 1733 -7 x\\ 1736 -9 t\\ 1739 5 d\\ 1742 6 x\\
1745 -10 t\\ 1748 7 x\\ 1751 -4 x\\ 1754 -8 t\\ 1757 6 d\\ 1760 11 x\\ 1763 8 t\\ 1766 -5 x\\ 1769 -7 x\\ 1772 6 t\\
1775 -10 x\\ 1778 5 d\\ 1781 -4 t\\ 1784 9 x\\ 1787 7 x\\ 1790 -6 t\\ 1793 -11 x\\ 1796 8 t\\ 1799 -5 d\\ 1802 -7 x\\
1805 -7 t\\ 1808 6 x\\ 1811 -9 x\\ 1814 -8 t\\
1953 -10 x\\ 1956 5 d\\ 1959 -4 t\\ 1962 9 x\\ 1964 7 x\\ 1967 -6 t\\ 1970 -11 x\\ 1973 8 t\\ 1976 -5 d\\ 1978 -7 x\\
1981 -7 t\\ 1984 6 x\\ 1990 -9 x\\ 1993 -8 t\\ 1995 5 d\\ 1998 10 x\\ 2001 -6 t\\ 2003 4 x\\ 2006 8 x\\ 2009 -7 t\\
2011 6 x\\ 2014 10 d\\ 2017 -8 t\\ 2019 -5 x\\ 2022 9 x\\ 2025 4 t\\ 2027 -7 x\\ 2030 -9 t\\ 2033 5 d\\ 2035 6 x\\
2038 -10 t\\ 2041 7 x\\ 2043 -4 x\\ 2046 -8 t\\ 2049 6 d\\ 2051 11 x\\ 2054 8 t\\ 2057 -5 x\\ 2059 -7 x\\ 2062 6 t\\
2065 -10 x\\ 2067 5 d\\ 2070 -4 t\\ 2073 9 x\\ 2075 7 x\\ 2078 -6 t\\ 2081 -11 x\\ 2084 8 t\\
2221 6 t\\ 2224 10 x\\ 2226 -8 x\\ 2229 -5 t\\ 2231 9 d\\ 2234 4 x\\ 2237 -7 t\\ 2239 -9 x\\ 2242 5 x\\ 2244 6 t\\
2247 -10 x\\ 2250 7 d\\ 2252 -4 t\\ 2255 -8 x\\ 2257 6 x\\ 2260 11 t\\ 2263 8 x\\ 2265 -5 t\\ 2268 -7 d\\ 2270 6 x\\
2273 -7 t\\ 2276 6 x\\ 2278 -9 x\\ 2281 -8 t\\ 2283 5 d\\ 2286 10 x\\ 2289 -6 t\\ 2291 4 x\\ 2294 8 x\\ 2296 -7 t\\
2299 -10 x\\ 2302 5 d\\ 2304 -4 t\\ 2307 9 x\\
2412 -10 x\\ 2414 7 d\\ 2417 -4 t\\ 2419 -8 x\\ 2422 6 x\\ 2424 11 t\\ 2427 8 x\\ 2429 -5 t\\ 2432 -7 d\\ 2434 6 x\\
2437 -10 t\\ 2439 5 x\\ 2442 -4 x\\ 2444 9 t\\ 2457 7 d\\ 2459 -6 x\\ 2461 -11 t\\ 2464 8 x\\ 2466 -5 x\\ 2468 -7 t\\
2470 6 x\\ 2472 10 d\\ 2475 -8 t\\ 2477 -5 x\\ 2479 9 x\\ 2481 4 t\\ 2483 -7 x\\ 2486 -9 t\\ 2488 5 d\\ 2490 6 x\\
2492 -7 t\\ 2494 6 x\\ 2497 -9 x\\ 2499 -8 t\\
2583 -7 t\\ 2586 6 x\\ 2589 -9 x\\ 2592 -8 t\\ 2595 5 d\\ 2598 10 x\\ 2601 -6 t\\ 2604 4 x\\ 2606 8 x\\ 2609 -7 t\\
2612 -10 x\\ 2615 7 d\\ 2617 -4 t\\ 2620 -8 x\\ 2623 6 x\\ 2625 11 t\\ 2628 8 x\\ 2631 -5 t\\ 2633 -7 d\\ 2636 6 x\\
2639 -10 t\\ 2641 5 x\\ 2644 -4 x\\ 2647 9 t\\ 2650 7 d\\ 2652 -6 x\\ 2655 -11 t\\ 2658 8 x\\
2721 6 x\\ 2723 10 d\\ 2725 -8 t\\ 2728 -5 x\\ 2730 9 x\\ 2732 4 t\\ 2735 -7 x\\ 2737 -9 t\\ 2739 5 d\\ 2742 6 x\\
2744 -10 t\\ 2748 5 x\\ 2750 -4 x\\ 2753 9 t\\ 2755 7 d\\ 2757 -6 x\\ 2760 -11 t\\ 2762 8 x\\ 2764 -5 x\\ 2767 -7 t\\
2769 -10 x\\ 2771 7 d\\ 2774 -4 t\\ 2776 -8 x\\ 2778 6 x\\ 2781 11 t\\
2848 -10 t\\ 2850 5 x\\ 2851 -4 x\\ 2853 9 t\\ 2855 7 d\\ 2856 -6 x\\ 2858 -11 t\\ 2860 8 x\\ 2862 -5 x\\ 2863 -7 t\\
2865 -7 x\\ 2867 6 d\\ 2869 -9 t\\ 2870 -8 x\\ 2872 5 x\\ 2874 10 t\\ 2876 -6 x\\ 2877 4 t\\ 2879 8 d\\ 2881 -7 x\\
}\bluetab

\pgfplotstableread[row sep=\\]{
x y c\\
271 35 d\\ 271 -33 d\\ 293 15 d\\ 269 14 x\\ 354 -12 x\\ 768 19 t\\ 790 -19 d\\ 1150 10 c\\
1223 240 d\\ 1223 225 t\\ 1223 93 t\\ 1223 75 t\\ 1223 56 t\\ 1223 49 t\\ 1223 34 t\\ 1223 33 t\\ 1223 17 t\\ 1223 14 x\\
1223 -21 d\\ 1223 -27 x\\ 1223 -31 x\\ 1223 -39 t\\ 1223 -51 d\\ 1223 -51 p\\ 1223 -167 p\\ 1222 -168 p\\
1407 -54 p\\ 1460 -9 c\\ 1490 13 t\\ 1792 16 d\\ 1752 14 t\\ 1778 -15 d\\ 2002 15 d\\ 1956 19 p\\ 2068 14 t\\ 2040 -10 o\\
2294 -31 d\\ 2250 -12 t\\ 2466 52 t\\ 2466 -45 x\\ 2466 -64 x\\ 2481 -26 t\\ 2460 -15 d\\ 2440 9 o\\ 2603 15 d\\
2762 100 x\\ 2762 25 t\\ 2762 20 t\\ 2762 14 t\\ 2762 -71 x\\ 2770 -15 d\\ 2874 90 d\\ 2874 -17 t\\ 2853 12 d\\
}\blueout

\newcommand{\lab}{\fontsize{11}{13}\selectfont}

\begin{document}
\begin{tikzpicture}
\useasboundingbox (0,0) rectangle (864pt,504pt);
\begin{axis}[
  at={(59.2pt,112.7pt)}, anchor=south west,
  scale only axis, width=797pt, height=335pt,
  xmin=-148, xmax=3187, ymin=-191.6, ymax=349.6,
  axis x line*=bottom, axis y line*=left,
  axis line style={draw=none},
  tick align=outside, major tick length=4pt, minor tick length=0pt,
  xtick={124.6,370.85,591.46,786.05,972.08,1148.1,1313.23,1465.98,1609.77,1748.14,2017.84,2253.6,2454.99,2620.4,2750.09,2958.67},
  xticklabels={1,2,3,4,5,6,7,8,9,10,12,14,16,18,20,X},
  minor xtick={0,249.25,492.45,690.47,881.62,1062.54,1233.66,1392.8,1539.16,1680.37,1815.9,1950.91,2084.76,2199.93,2307.28,2409.81,2500.16,2581.36,2659.44,2718.57,2781.6,2829.73,2881.03,3036.3},
  ytick={-100,0,100,200,300},
  yticklabels={-0.1,0.0,0.1,0.2,0.3},
  minor ytick={-150,-50,50,150,250},
  ymajorgrids, yminorgrids, xminorgrids,
  major grid style={draw=gridc, line width=0.8pt},
  minor grid style={draw=gridc, line width=0.4pt},
  xtick style={draw=none},
  ytick style={draw=tickm, line width=0.8pt},
  xticklabel style={font=\fontsize{12.8}{15}\selectfont, text=tickc, inner sep=0pt, anchor=north, yshift=-3.3pt},
  yticklabel style={font=\fontsize{12.8}{15}\selectfont, text=tickc, inner sep=0pt, anchor=east, xshift=-4.3pt},
  xlabel={Genomic position (GRCh37/hg19)},
  ylabel={PGS effect size},
  xlabel style={font=\fontsize{16}{19}\selectfont, at={(axis description cs:0.5,-0.1048)}, anchor=base, inner sep=0pt},
  ylabel style={font=\fontsize{16}{19}\selectfont, at={(axis description cs:-0.0546,0.5)}, anchor=center, inner sep=0pt},
  legend columns=3,
  legend image code/.code={\draw[#1, only marks] plot coordinates {(4pt,0pt)}; \path[draw=none, fill=none] (0pt,-3pt) -- (8pt,3pt);},
  legend style={at={(axis description cs:0.4439,-0.1976)}, anchor=north west, draw=none, fill=none,
    inner sep=0pt, outer sep=0pt, row sep=6.9pt, font=\fontsize{12.8}{15}\selectfont,
    nodes={inner sep=0pt, anchor=west},
    /tikz/every odd column/.append style={column sep=12.3pt},
    /tikz/every even column/.append style={column sep=13pt}},
]
\addlegendimage{mark=hexa, mark size=3.4pt, black, line width=0.55pt}
\addlegendimage{mark=cplus, mark size=2.4pt, black, line width=0.55pt}
\addlegendimage{mark=circ, mark size=2.4pt, black, line width=0.55pt}
\addlegendimage{mark=dplus, mark size=3.4pt, black, line width=0.55pt}
\addlegendimage{mark=tdown, mark size=3pt, black, line width=0.55pt}
\addlegendimage{mark=xx, mark size=1.9pt, black, line width=0.55pt}
\legend{PTVs,PCVs,UTR,PAVs,Intronic,Others}

\addplot[forget plot, black, line width=0.6pt] coordinates {(-148,0) (3187,0)};
\addplot[pts={nred}{mkband}] table[x=x, y=y, meta=c] {\redtab};
\addplot[pts={nblue}{mkband}] table[x=x, y=y, meta=c] {\bluetab};
\addplot[pts={nred}{mk}] table[x=x, y=y, meta=c] {\redout};
\addplot[pts={nblue}{mk}] table[x=x, y=y, meta=c] {\blueout};

\node[anchor=west, inner sep=0pt, font=\lab] at (axis cs:839.1,271.2) {rs3798220 (LPA)};
\draw[line width=0.35pt] (axis cs:1110,262) -- (axis cs:1219,241);
\node[anchor=west, inner sep=0pt, font=\lab] at (axis cs:2436,254.7) {rs1077835};
\draw[line width=0.35pt] (axis cs:2426,257.5) -- (axis cs:2368,285);
\node[anchor=west, inner sep=0pt, font=\lab] at (axis cs:2780.6,315.1) {rs445925};
\draw[line width=0.35pt] (axis cs:2770.6,317.8) -- (axis cs:2709,323.7);
\node[anchor=west, inner sep=0pt, font=\lab] at (axis cs:1905.8,147.3) {rs1801689 (APOH)};
\draw[line width=0.35pt] (axis cs:2342.3,146.8) -- (axis cs:2557.5,106.1);
\node[anchor=west, inner sep=0pt, font=\lab] at (axis cs:2499.2,146.2) {rs7254892};
\draw[line width=0.35pt] (axis cs:2624.7,137.2) -- (axis cs:2701,76);
\node[anchor=west, inner sep=0pt, font=\lab] at (axis cs:2869.5,120.6) {rs6065906};
\draw[line width=0.35pt] (axis cs:2860.5,118.3) -- (axis cs:2763.7,100.5);
\node[anchor=west, inner sep=0pt, font=\lab] at (axis cs:2215,83.8) {rs58542926 (TM6SF2)};
\draw[line width=0.35pt] (axis cs:2600.6,74.4) -- (axis cs:2673.9,61.6);
\node[anchor=west, inner sep=0pt, font=\lab] at (axis cs:2678.5,52) {rs738409 (PNPLA3)};
\draw[line width=0.35pt] (axis cs:2900.8,62) -- (axis cs:2874,89.4);
\node[anchor=west, inner sep=0pt, font=\lab] at (axis cs:2834.8,-48.6) {rs4810479};
\draw[line width=0.35pt] (axis cs:2825.8,-50.9) -- (axis cs:2764,-70.2);
\end{axis}
\node[anchor=base west, inner sep=0pt, font=\fontsize{19.2}{23}\selectfont] at (60pt,482.4pt) {iPGS coefficients};
\node[anchor=base west, inner sep=0pt, font=\fontsize{16}{19}\selectfont] at (60pt,458.8pt) {INI10023579: PLs to Tot. Lipids in CMs and XXL VLDL \% (truncated)};
\node[anchor=base west, inner sep=0pt, font=\fontsize{16}{19}\selectfont] at (292.6pt,27.2pt) {Consequence};
\end{tikzpicture}
\end{document}
